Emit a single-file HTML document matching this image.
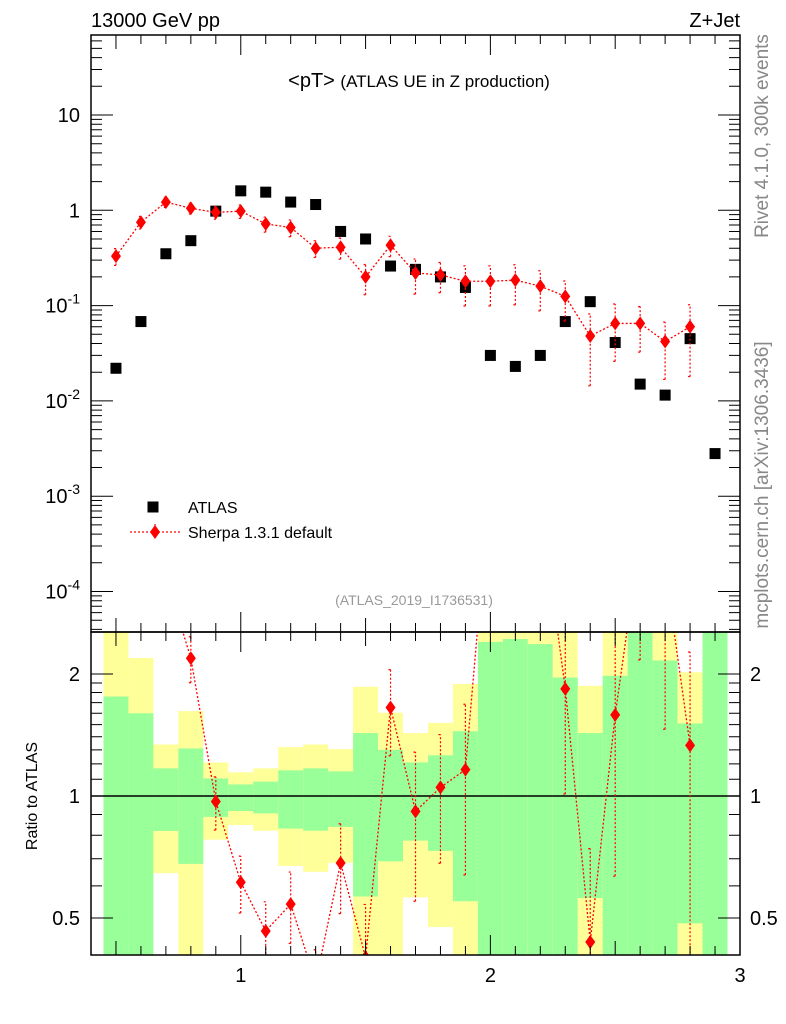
<!DOCTYPE html>
<html><head><meta charset="utf-8"><style>
html,body{margin:0;padding:0;background:#fff;overflow:hidden;width:786px;height:1024px}
svg{display:block;font-family:"Liberation Sans",sans-serif}
</style></head><body>
<svg id="c" width="786" height="1024" viewBox="0 0 786 1024" xmlns="http://www.w3.org/2000/svg"></svg>
<script>
const bins=[0.5,0.6,0.7,0.8,0.9,1.0,1.1,1.2,1.3,1.4,1.5,1.6,1.7,1.8,1.9,2.0,2.1,2.2,2.3,2.4,2.5,2.6,2.7,2.8,2.9];
const atlas=[0.022,0.068,0.35,0.48,0.98,1.6,1.55,1.22,1.15,0.6,0.5,0.26,0.24,0.2,0.155,0.03,0.023,0.03,0.068,0.11,0.041,0.015,0.0115,0.045,0.0028];
const sherpa=[0.33,0.75,1.22,1.05,0.95,0.98,0.72,0.66,0.4,0.41,0.2,0.43,0.22,0.21,0.18,0.18,0.185,0.16,0.125,0.048,0.065,0.065,0.042,0.06];
const sherpaRelErr=[0.2,0.15,0.12,0.13,0.15,0.16,0.18,0.2,0.2,0.25,0.35,0.24,0.4,0.35,0.45,0.45,0.45,0.45,0.45,0.7,0.6,0.5,0.6,0.7];
const greenHi=[1.76,1.60,1.17,1.31,1.105,1.068,1.085,1.157,1.17,1.15,1.43,1.30,1.21,1.26,1.445,2.40,2.44,2.37,1.96,1.43,1.98,10,2.16,1.51,10];
const greenLo=[0.01,0.01,0.82,0.68,0.888,0.918,0.906,0.831,0.821,0.839,0.565,0.69,0.776,0.732,0.55,0.01,0.01,0.01,0.01,0.56,0.01,0.01,0.01,0.485,0.01];
const yellowHi=[10,2.19,1.34,1.62,1.21,1.144,1.17,1.32,1.34,1.305,1.86,1.605,1.43,1.515,1.89,10,10,10,10,1.87,10,10,10,2.02,10];
const yellowLo=[0.01,0.01,0.645,0.01,0.78,0.848,0.821,0.672,0.65,0.684,0.01,0.01,0.562,0.475,0.01,0.01,0.01,0.01,0.01,0.01,0.01,0.01,0.01,0.01,0.01];
const yTickLabels=["10","1","10^-1","10^-2","10^-3","10^-4"];

const NS="http://www.w3.org/2000/svg",svg=document.getElementById('c');
const L=91,R=740,T=35,MB=632,RB=955;
const X=v=>L+(v-0.4)*(R-L)/2.6;
const Y=v=>115-(Math.log10(v)-1)*95.3;
const RY=v=>796-Math.log2(v)*122;
function el(t,a,p){const e=document.createElementNS(NS,t);for(const k in a)e.setAttribute(k,a[k]);(p||svg).appendChild(e);return e;}
function txt(s,a,p){const e=el('text',a,p);e.textContent=s;return e;}
const clipM=el('clipPath',{id:'cm'});el('rect',{x:L,y:T,width:R-L,height:MB-T},clipM);
const clipR=el('clipPath',{id:'cr'});el('rect',{x:L,y:MB,width:R-L,height:RB-MB},clipR);
const gM=el('g',{'clip-path':'url(#cm)'});
const gR=el('g',{'clip-path':'url(#cr)'});

bins.forEach((b,i)=>{
 const x0=X(b-0.05),x1=X(b+0.05);
 const yb=el('rect',{x:x0,y:RY(yellowHi[i]),width:x1-x0,height:RY(yellowLo[i])-RY(yellowHi[i]),fill:'#ffff99'},gR);
 
 const gb=el('rect',{x:x0,y:RY(greenHi[i]),width:x1-x0,height:RY(greenLo[i])-RY(greenHi[i]),fill:'#99ff99'},gR);
 
});
el('line',{x1:L,x2:R,y1:RY(1),y2:RY(1),stroke:'#000','stroke-width':1.5},gR);

function diamond(g,x,y){const d=el('path',{d:`M${x},${y-7}L${x+5},${y}L${x},${y+7}L${x-5},${y}Z`,fill:'#f00'},g);}
function sherpaSeries(g,vals,errs,Yf){
 let pts=vals.map((v,i)=>X(bins[i])+','+Yf(v)).join(' ');
 el('polyline',{points:pts,fill:'none',stroke:'#f00','stroke-width':1.3,'stroke-dasharray':'2,2'},g);
 vals.forEach((v,i)=>{const x=X(bins[i]);const lo=Math.max(v-errs[i],1e-9),hi=v+errs[i];
  const e=el('path',{d:`M${x},${Yf(lo)}V${Yf(hi)}M${x-2},${Yf(lo)}h4M${x-2},${Yf(hi)}h4`,stroke:'#f00','stroke-width':1.2,'stroke-dasharray':'2,2',fill:'none'},g);
  
  diamond(g,x,Yf(v));});
}
atlas.forEach((v,i)=>{const r=el('rect',{x:X(bins[i])-5.5,y:Y(v)-5.5,width:11,height:11,fill:'#000'},gM);});
sherpaSeries(gM,sherpa,sherpa.map((v,i)=>v*sherpaRelErr[i]),Y);
const ratio=sherpa.map((v,i)=>v/atlas[i]);
sherpaSeries(gR,ratio,sherpa.map((v,i)=>v*sherpaRelErr[i]/atlas[i]),RY);

el('rect',{x:L,y:T,width:R-L,height:MB-T,fill:'none',stroke:'#000','stroke-width':1.5});
el('rect',{x:L,y:MB,width:R-L,height:RB-MB,fill:'none',stroke:'#000','stroke-width':1.5});
const ax=el('g',{stroke:'#000','stroke-width':1});
for(let k=4;k<=30;k++){const v=k/10,x=X(v);const len=(k%10==0)?20:(k%5==0?14:9);
 el('path',{d:`M${x},${MB}v${-len}M${x},${T}v${len}M${x},${RB}v${-len}M${x},${MB}v${len}`},ax);}
for(let d=-5;d<=1;d++)for(let m=1;m<=9;m++){const v=m*Math.pow(10,d),y=Y(v);if(y<T||y>MB)continue;const len=m==1?22:11;
 el('path',{d:`M${L},${y}h${len}M${R},${y}h${-len}`},ax);}
[0.5,0.6,0.7,0.8,0.9,1,2,1.1,1.2,1.3,1.4,1.5,1.6,1.7,1.8,1.9].forEach(v=>{const y=RY(v);const len=(v==0.5||v==1||v==2)?22:11;
 el('path',{d:`M${L},${y}h${len}M${R},${y}h${-len}`},ax);});
yTickLabels.forEach((s,i)=>{const y=Y(Math.pow(10,1-i))+7;
 const t=el('text',{x:80,y:y,'text-anchor':'end','font-size':20});
 
 if(s.includes('^')){const [b,e]=s.split('^');const a=el('tspan',{},t);a.textContent=b;const c=el('tspan',{dy:-9,'font-size':14},t);c.textContent=e;}else t.textContent=s;});
[['0.5',0.5],['1',1],['2',2]].forEach(([s,v])=>{
 const a=txt(s,{x:80,y:RY(v)+7,'text-anchor':'end','font-size':20});
 const b=txt(s,{x:750,y:RY(v)+7,'font-size':20});});
[1,2,3].forEach(v=>{const t=txt(String(v),{x:X(v),y:982,'text-anchor':'middle','font-size':20});});
let t;
t=txt('13000 GeV pp',{x:91,y:27,'font-size':20});
t=txt('Z+Jet',{x:740,y:27,'font-size':20,'text-anchor':'end'});
t=el('text',{x:419,y:87,'font-size':20,'text-anchor':'middle'});t.innerHTML='&lt;pT&gt; <tspan font-size="17">(ATLAS UE in Z production)</tspan>';
t=txt('(ATLAS_2019_I1736531)',{x:414,y:605,'font-size':14,fill:'#999','text-anchor':'middle'});
t=txt('Ratio to ATLAS',{x:0,y:0,'font-size':16,'text-anchor':'middle',transform:'translate(37,796) rotate(-90)'});
t=txt('Rivet 4.1.0,  300k events',{x:0,y:0,'font-size':19,fill:'#888','text-anchor':'middle',transform:'translate(768,136) rotate(-90)'});
t=txt('mcplots.cern.ch [arXiv:1306.3436]',{x:0,y:0,'font-size':19,fill:'#888','text-anchor':'middle',transform:'translate(768,485) rotate(-90)'});
const lg=el('g',{});
el('rect',{x:147.5,y:501.5,width:11,height:11,fill:'#000'},lg);
t=txt('ATLAS',{x:188,y:513,'font-size':16},lg);
el('line',{x1:130,x2:180,y1:532,y2:532,stroke:'#f00','stroke-width':1.3,'stroke-dasharray':'2,2'},lg);
el('line',{x1:155,x2:155,y1:524,y2:540,stroke:'#f00','stroke-width':1.2,'stroke-dasharray':'2,2'},lg);
diamond(lg,155,532);
t=txt('Sherpa 1.3.1 default',{x:188,y:538,'font-size':16},lg);
</script>
</body></html>
